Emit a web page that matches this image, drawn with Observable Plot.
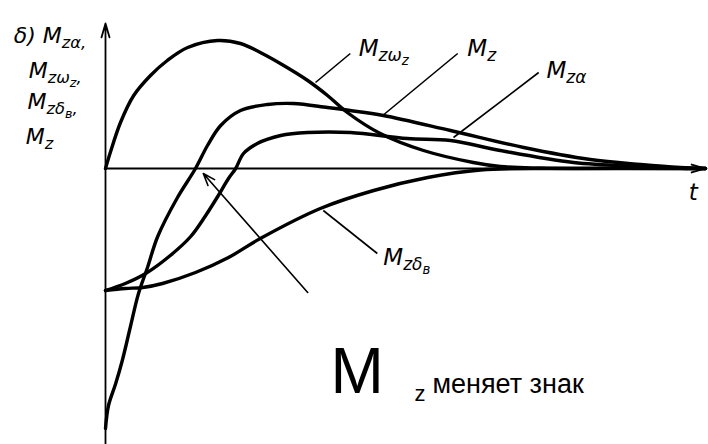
<!DOCTYPE html>
<html>
<head>
<meta charset="utf-8">
<script src="https://cdn.jsdelivr.net/npm/d3@7"></script>
<script src="https://cdn.jsdelivr.net/npm/@observablehq/plot@0.6"></script>
<style>
  html, body { margin: 0; padding: 0; background: #fff; }
  #chart svg { display: block; }
</style>
</head>
<body>
<div id="chart"></div>
<script>
// Transient pitching-moment components versus time t (relative units).
const tOmega = [0, 0.08, 0.25, 0.47, 0.75, 1.03, 1.37, 1.87, 2.25, 2.58, 2.97, 3.37, 3.7, 4.03, 4.58, 5.3, 6.13, 6.58, 7.25, 8.25, 10];
const mOmega = [0, 0.16, 0.46, 0.73, 0.93, 1.08, 1.21, 1.28, 1.25, 1.16, 1.03, 0.88, 0.73, 0.56, 0.35, 0.18, 0.06, 0.02, 0.005, 0, 0];

const tTotal = [0, 0.05, 0.17, 0.28, 0.42, 0.55, 0.7, 0.87, 1.2, 1.5, 1.7, 1.92, 2.25, 2.7, 3.13, 3.7, 4.08, 4.63, 5.75, 6.97, 8.08, 8.92, 9.58, 10];
const mTotal = [-2.6, -2.37, -2.15, -1.92, -1.57, -1.25, -0.99, -0.68, -0.29, 0, 0.23, 0.43, 0.58, 0.64, 0.65, 0.61, 0.58, 0.53, 0.38, 0.21, 0.09, 0.04, 0.01, 0];

const tAlpha = [0, 0.33, 0.67, 1.08, 1.42, 1.67, 1.88, 2.05, 2.17, 2.3, 2.53, 2.92, 3.37, 4.08, 5.03, 5.75, 6.58, 7.8, 8.92, 9.75, 10];
const mAlpha = [-1.22, -1.15, -1.05, -0.87, -0.68, -0.47, -0.27, -0.1, 0, 0.15, 0.25, 0.33, 0.36, 0.36, 0.3, 0.28, 0.18, 0.06, 0.02, 0, 0];

const tDelta = [0, 0.33, 0.62, 0.95, 1.5, 2.05, 2.58, 3.58, 4.47, 5.37, 6.25, 7.5, 10];
const mDelta = [-1.22, -1.2, -1.19, -1.15, -1.04, -0.89, -0.7, -0.4, -0.22, -0.09, -0.015, 0, 0];

const seriesNames = ["Mzωz", "Mz", "Mzα", "Mzδв"];
const seriesT = [tOmega, tTotal, tAlpha, tDelta];
const seriesM = [mOmega, mTotal, mAlpha, mDelta];

// Curve labels (markup: _{...} is a subscript) and their anchor points
const labelText = ["M_{zω_{z}}", "M_{z}", "M_{zα}", "M_{zδ_{в}}", "t"];
const labelT = [4.22, 6.03, 7.35, 4.63, 9.72];
const labelM = [1.13, 1.13, 0.91, -0.96, -0.31];

// Leader lines from each label to its curve
const leaderT1 = [4.08, 5.87, 7.22, 3.63];
const leaderM1 = [1.15, 1.15, 0.96, -0.42];
const leaderT2 = [3.5, 4.62, 5.8, 4.53];
const leaderM2 = [0.86, 0.53, 0.31, -0.85];

// Vertical-axis caption, one entry per line
const axisTitle = ["δ) M_{zα,}", "M_{zω_{z},}", "M_{zδ_{в},}", "M_{z}"];
const axisTitleT = [-1.53, -1.28, -1.3, -1.33];
const axisTitleM = [1.26, 0.91, 0.6, 0.25];

// Note marking where the total moment Mz changes sign
const noteParts = ["M", "z", "меняет знак"];
const noteT = [3.75, 5.15, 5.45];
const noteM = [-2.24, -2.32, -2.24];
const noteSize = [64, 22, 27];
const pointerFrom = [3.37, -1.24];
const pointerTo = [1.63, -0.05];

const tMax = 10, mMin = -2.76, mMax = 1.68, mAxisTop = 1.45;

const curveRows = seriesNames.flatMap((name, k) =>
  seriesT[k].map((t, i) => ({ series: name, t, m: seriesM[k][i] })));
const leaders = leaderT1.map((t, i) => ({ x1: t, y1: leaderM1[i], x2: leaderT2[i], y2: leaderM2[i] }));
const labels = labelText.map((s, i) => ({ s, t: labelT[i], m: labelM[i] }));
const titleRows = axisTitle.map((s, i) => ({ s, t: axisTitleT[i], m: axisTitleM[i] }));
const noteRows = noteParts.map((s, i) => ({ s, t: noteT[i], m: noteM[i], size: noteSize[i] }));
const axes = [
  { x1: 0, y1: mMin, x2: 0, y2: mAxisTop },
  { x1: 0, y1: 0, x2: tMax, y2: 0 }
];
const pointer = [{ x1: pointerFrom[0], y1: pointerFrom[1], x2: pointerTo[0], y2: pointerTo[1] }];

const handFont = "'DejaVu Sans', sans-serif";

const chart = Plot.plot({
  width: 708,
  height: 444,
  marginLeft: 105,
  marginRight: 3,
  marginTop: 0,
  marginBottom: 0,
  x: { domain: [0, tMax], axis: null },
  y: { domain: [mMin, mMax], axis: null },
  marks: [
    Plot.arrow(axes, { x1: "x1", y1: "y1", x2: "x2", y2: "y2", stroke: "#000", strokeWidth: 1.8, headLength: 12, headAngle: 32 }),
    Plot.line(curveRows, { x: "t", y: "m", z: "series", curve: "catmull-rom", stroke: "#000", strokeWidth: 3.4 }),
    Plot.link(leaders, { x1: "x1", y1: "y1", x2: "x2", y2: "y2", stroke: "#000", strokeWidth: 1.6 }),
    Plot.arrow(pointer, { x1: "x1", y1: "y1", x2: "x2", y2: "y2", stroke: "#000", strokeWidth: 1.6, headLength: 12, headAngle: 40 }),
    Plot.text(labels, { x: "t", y: "m", text: "s", textAnchor: "start", lineAnchor: "bottom", fontSize: 23, fontStyle: "italic", fontFamily: handFont, fill: "#000" }),
    Plot.text(titleRows, { x: "t", y: "m", text: "s", textAnchor: "start", lineAnchor: "bottom", fontSize: 22, fontStyle: "italic", fontFamily: handFont, fill: "#000" }),
    Plot.text(noteRows, { x: "t", y: "m", text: "s", textAnchor: "start", lineAnchor: "bottom", fontSize: "size", fontFamily: "'Liberation Sans', Arial, sans-serif", fill: "#000" })
  ]
});

document.getElementById("chart").appendChild(chart);

// Turn "_{...}" markup into subscript tspans (nested braces go one level lower)
const SVGNS = "http://www.w3.org/2000/svg";
const subSize = [1, 0.74, 0.58];
const subDrop = [0, 0.25, 0.42];
chart.querySelectorAll("text").forEach((el) => {
  const src = el.textContent;
  if (!src.includes("_{")) return;
  const base = parseFloat(getComputedStyle(el).fontSize);
  const segs = [];
  let level = 0, buf = "";
  for (let i = 0; i < src.length; i++) {
    const c = src[i];
    if (c === "_" && src[i + 1] === "{") {
      if (buf) segs.push({ s: buf, level });
      buf = ""; level++; i++;
    } else if (c === "}") {
      if (buf) segs.push({ s: buf, level });
      buf = ""; level--;
    } else buf += c;
  }
  if (buf) segs.push({ s: buf, level });
  while (el.firstChild) el.removeChild(el.firstChild);
  let prev = 0;
  for (const g of segs) {
    const ts = document.createElementNS(SVGNS, "tspan");
    ts.setAttribute("font-size", (base * subSize[g.level]).toFixed(2));
    ts.setAttribute("dy", ((subDrop[g.level] - subDrop[prev]) * base).toFixed(2));
    ts.textContent = g.s;
    el.appendChild(ts);
    prev = g.level;
  }
});
</script>
</body>
</html>
